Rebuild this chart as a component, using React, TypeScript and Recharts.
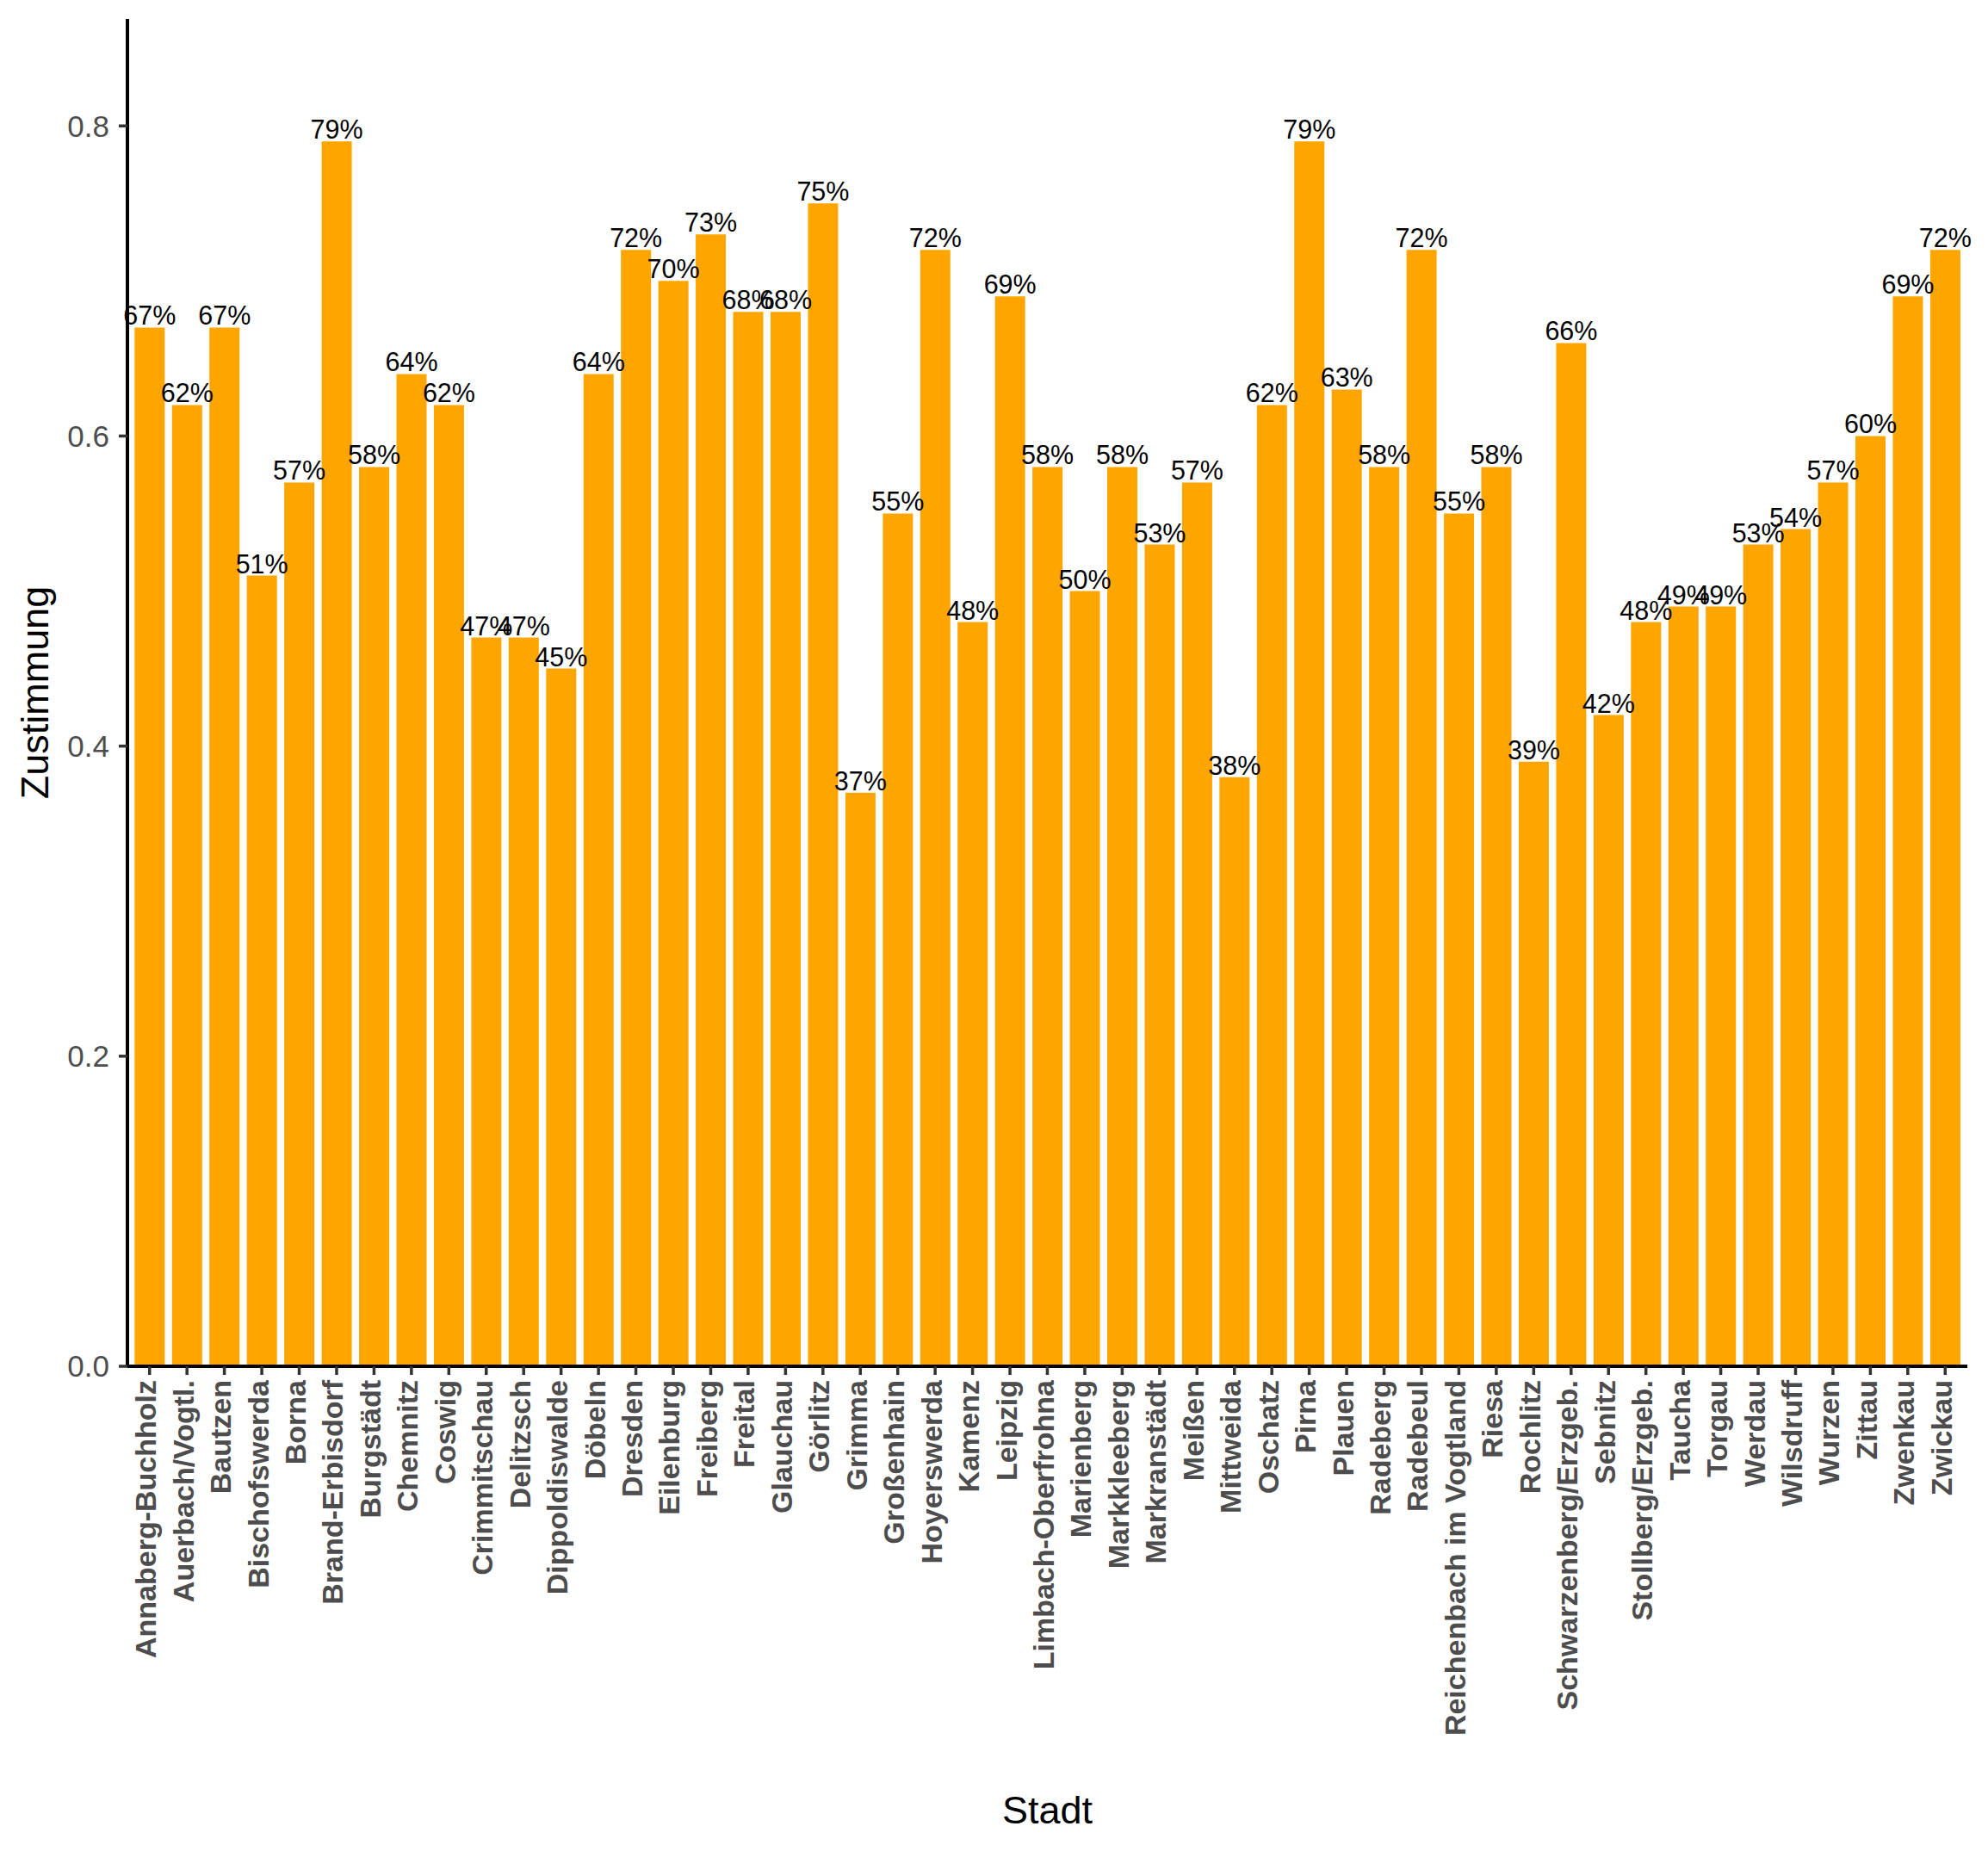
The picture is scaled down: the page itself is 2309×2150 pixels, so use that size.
import React from 'react';
import { BarChart, Bar, XAxis, YAxis, LabelList, Label } from 'recharts';

const cities = [
  'Annaberg-Buchholz', 'Auerbach/Vogtl.', 'Bautzen', 'Bischofswerda', 'Borna', 'Brand-Erbisdorf',
  'Burgstädt', 'Chemnitz', 'Coswig', 'Crimmitschau', 'Delitzsch', 'Dippoldiswalde', 'Döbeln',
  'Dresden', 'Eilenburg', 'Freiberg', 'Freital', 'Glauchau', 'Görlitz', 'Grimma', 'Großenhain',
  'Hoyerswerda', 'Kamenz', 'Leipzig', 'Limbach-Oberfrohna', 'Marienberg', 'Markkleeberg',
  'Markranstädt', 'Meißen', 'Mittweida', 'Oschatz', 'Pirna', 'Plauen', 'Radeberg', 'Radebeul',
  'Reichenbach im Vogtland', 'Riesa', 'Rochlitz', 'Schwarzenberg/Erzgeb.', 'Sebnitz',
  'Stollberg/Erzgeb.', 'Taucha', 'Torgau', 'Werdau', 'Wilsdruff', 'Wurzen', 'Zittau', 'Zwenkau',
  'Zwickau',
];

const zustimmung = [
  0.67, 0.62, 0.67, 0.51, 0.57, 0.79,
  0.58, 0.64, 0.62, 0.47, 0.47, 0.45, 0.64,
  0.72, 0.70, 0.73, 0.68, 0.68, 0.75, 0.37, 0.55,
  0.72, 0.48, 0.69, 0.58, 0.50, 0.58,
  0.53, 0.57, 0.38, 0.62, 0.79, 0.63, 0.58, 0.72,
  0.55, 0.58, 0.39, 0.66, 0.42,
  0.48, 0.49, 0.49, 0.53, 0.54, 0.57, 0.60, 0.69,
  0.72,
];

const yTicks = [0, 0.2, 0.4, 0.6, 0.8];

const data = cities.map((stadt, i) => ({ stadt, wert: zustimmung[i] }));

const FONT = '"Liberation Sans", Arial, sans-serif';

const CityTick = (props: any) => {
  const { x, y, payload } = props;
  return (
    <g transform={`translate(${x},${y})`}>
      <text
        transform="rotate(-90)"
        textAnchor="end"
        dy="0.22em"
        fill="#4D4D4D"
        fontFamily={FONT}
        fontWeight="bold"
        fontSize={34}
      >
        {payload.value}
      </text>
    </g>
  );
};

export default function App() {
  return (
    <div style={{ width: 2309, height: 2150, background: '#fff' }}>
      <style>{`body{margin:0}`}</style>
      <BarChart
        width={2309}
        height={2150}
        data={data}
        margin={{ top: 22, right: 24, left: 0, bottom: 0 }}
        barCategoryGap="10%"
      >
        <XAxis
          dataKey="stadt"
          interval={0}
          height={563}
          padding={{ left: 4, right: 4 }}
          tick={<CityTick />}
          tickSize={10}
          tickMargin={6}
          axisLine={{ stroke: '#000', strokeWidth: 4 }}
          tickLine={{ stroke: '#333333', strokeWidth: 3.5 }}
        >
          <Label
            content={({ viewBox }: any) => (
              <text
                x={viewBox.x + viewBox.width / 2}
                y={2118}
                textAnchor="middle"
                fontFamily={FONT}
                fontSize={45}
                fill="#000"
              >
                Stadt
              </text>
            )}
          />
        </XAxis>
        <YAxis
          width={148}
          domain={[0, 0.869]}
          ticks={yTicks}
          tickFormatter={(v: number) => v.toFixed(1)}
          tickSize={10}
          tickMargin={11}
          tick={{ fill: '#4D4D4D', fontSize: 35, fontFamily: FONT }}
          axisLine={{ stroke: '#000', strokeWidth: 4 }}
          tickLine={{ stroke: '#333333', strokeWidth: 3.5 }}
        >
          <Label
            content={({ viewBox }: any) => (
              <text
                transform={`translate(56,${viewBox.y + viewBox.height / 2}) rotate(-90)`}
                textAnchor="middle"
                fontFamily={FONT}
                fontSize={45}
                fill="#000"
              >
                Zustimmung
              </text>
            )}
          />
        </YAxis>
        <Bar dataKey="wert" fill="#FFA500" isAnimationActive={false}>
          <LabelList
            dataKey="wert"
            position="top"
            offset={3}
            formatter={(v: any) => `${Math.round(Number(v) * 100)}%`}
            style={{ fill: '#000', fontSize: 30.5, fontFamily: FONT }}
          />
        </Bar>
      </BarChart>
    </div>
  );
}
